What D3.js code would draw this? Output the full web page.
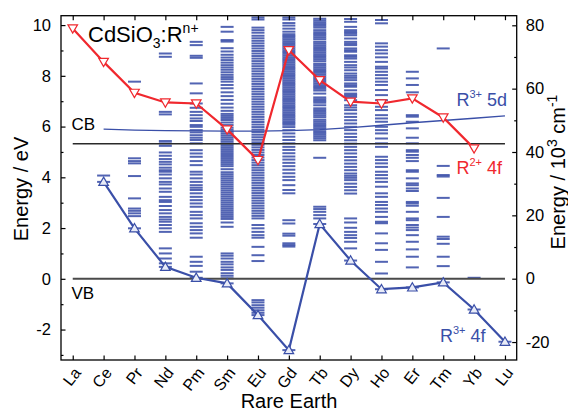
<!DOCTYPE html>
<html>
<head>
<meta charset="utf-8">
<script src="https://cdn.jsdelivr.net/npm/d3@7"></script>
<style>
  body { margin: 0; background: #fff; }
  svg { display: block; font-family: "Liberation Sans", Arial, sans-serif; }
</style>
</head>
<body>
<svg id="chart" width="568" height="413"></svg>
<script>
const elements = ["La", "Ce", "Pr", "Nd", "Pm", "Sm", "Eu", "Gd", "Tb", "Dy", "Ho", "Er", "Tm", "Yb", "Lu"];

// R2+ 4f ground state (eV), red
const r2f = [9.87, 8.55, 7.33, 6.95, 6.91, 5.89, 4.68, 9.01, 7.83, 6.98, 6.91, 7.11, 6.36, 5.14, null];
// R3+ 4f ground state (eV), blue
const r3f = [null, 3.82, 1.99, 0.47, 0.04, -0.18, -1.43, -2.81, 2.16, 0.72, -0.41, -0.34, -0.14, -1.21, -2.48];
// R3+ 5d lowest level (eV)
const r3d = [null, 5.90, 5.86, 5.84, 5.83, 5.82, 5.82, 5.84, 5.88, 5.96, 6.05, 6.15, 6.24, 6.33, 6.42];

const cbEnergy = 5.32;
const vbEnergy = 0;

// 4f level dashes per element (absolute eV)
const lvLa = [];
const lvCe = [4.07, 3.82];
const lvPr = [7.77, 4.75, 4.64, 4.55, 4.05, 3.17, 2.77, 2.68, 2.58, 2.47, 1.99];
const lvNd = [8.88, 8.75, 6.58, 6.48, 5.43, 5.34, 5.24, 4.98, 4.85, 4.72, 4.61, 4.51, 4.38, 4.28, 4.22, 4.11,
  3.96, 3.82, 3.72, 3.56, 3.43, 3.23, 3.10, 3.03, 2.87, 2.71, 2.58, 2.44, 2.34, 2.25, 2.12, 1.99, 1.85,
  1.20, 1.00, 0.80, 0.61, 0.47];
const lvPm = [9.34, 9.21, 8.79, 8.71, 7.70, 7.31, 6.91, 6.74, 6.58, 6.45, 6.32, 6.22, 6.06, 5.99, 5.86, 5.77,
  5.66, 5.56, 5.47, 5.34, 5.07, 4.94, 4.81, 4.64, 4.48, 4.22, 4.11, 3.96, 3.82, 3.69, 3.59, 3.50, 3.37, 3.23,
  3.10, 2.97, 2.84, 2.64, 2.51, 2.38, 2.19, 2.05, 1.92, 1.79, 1.62, 0.87, 0.67, 0.51, 0.28, 0.04];
const lvSm = [9.93, 9.74, 9.41, 9.35, 9.09, 8.96, 8.83, 8.72, 8.62, 8.52, 8.42, 8.33, 8.24, 8.14, 8.04, 7.95,
  7.87, 7.77, 7.64, 7.51, 7.35, 7.20, 7.05, 6.90, 6.75, 6.62, 6.50, 6.42, 6.34, 6.26, 6.16, 6.06, 5.96, 5.88,
  5.80, 5.72, 5.64, 5.56, 5.48, 5.40, 5.32, 5.24, 5.16, 5.08, 5.00, 4.92, 4.84, 4.76, 4.68, 4.60, 4.52, 4.44,
  4.32, 4.20, 4.12, 4.04, 3.96, 3.88, 3.80, 3.72, 3.64, 3.56, 3.48, 3.40, 3.32, 3.24, 3.16, 3.08, 3.00, 2.92,
  2.84, 2.76, 2.68, 2.60, 2.52, 2.44, 2.36, 2.22, 2.05, 1.00, 0.91, 0.80, 0.67, 0.57, 0.45, 0.35, 0.22, 0.12,
  0.02, -0.18];
const lvEu = [10.30, 10.22, 9.90, 9.80, 9.70, 9.58, 9.48, 9.38, 9.28, 9.18, 9.08, 8.98, 8.88, 8.78, 8.68, 8.58,
  8.48, 8.38, 8.28, 8.18, 8.08, 7.98, 7.88, 7.78, 7.68, 7.58, 7.48, 7.38, 7.28, 7.18, 7.08, 6.98, 6.88, 6.78,
  6.68, 6.58, 6.48, 6.38, 6.28, 6.18, 6.08, 5.98, 5.88, 5.78, 5.68, 5.58, 5.48, 5.38, 5.28, 5.18, 5.08, 4.98,
  4.88, 4.78, 4.68, 4.58, 4.48, 4.38, 4.28, 4.18, 4.08, 3.98, 3.88, 3.78, 3.68, 3.58, 3.48, 3.38, 3.28, 3.18,
  3.08, 2.98, 2.88, 2.78, 2.68, 2.58, 2.48, 2.38, 2.12, 1.99, 1.85, 1.72, 1.62, 1.26, 0.93, 0.70, -0.84, -0.93,
  -1.04, -1.14, -1.24, -1.34, -1.43];
const lvGd = [10.30, 10.22, 10.08, 9.98, 9.86, 9.74, 9.64, 9.57, 9.50, 9.43, 9.36, 9.29, 9.22, 9.15, 9.08, 9.01,
  8.94, 8.87, 8.80, 8.73, 8.66, 8.59, 8.52, 8.45, 8.38, 8.31, 8.24, 8.17, 8.10, 8.03, 7.96, 7.89, 7.82, 7.75,
  7.68, 7.61, 7.54, 7.47, 7.40, 7.33, 7.26, 7.19, 7.12, 7.05, 6.98, 6.91, 6.84, 6.77, 6.70, 6.63, 6.56, 6.49,
  6.42, 6.35, 6.28, 6.21, 6.14, 6.07, 5.98, 5.86, 5.73, 5.60, 5.47, 5.34, 5.20, 5.08, 4.95, 4.82, 4.70, 4.57,
  4.44, 4.30, 4.16, 4.02, 3.89, 3.69, 3.50, 3.37, 2.31, 2.18, 1.78, 1.70, 1.40, 1.33, 1.27, -2.81];
const lvTb = [10.32, 10.25, 10.18, 10.11, 10.04, 9.97, 9.90, 9.80, 9.72, 9.65, 9.58, 9.51, 9.44, 9.34, 9.27, 9.20,
  9.13, 9.06, 8.99, 8.92, 8.85, 8.78, 8.71, 8.64, 8.57, 8.47, 8.40, 8.33, 8.26, 8.19, 8.12, 8.05, 7.98, 7.91,
  7.84, 7.77, 7.70, 7.63, 7.56, 7.49, 7.42, 7.30, 7.15, 7.08, 7.01, 6.94, 6.84, 6.72, 6.65, 6.58, 6.51, 6.44,
  6.37, 6.27, 6.20, 6.13, 6.06, 5.99, 5.92, 5.82, 5.75, 5.68, 5.61, 5.54, 5.46, 4.77, 2.84, 2.75, 2.64, 2.51,
  2.38, 2.16];
const lvDy = [10.33, 10.24, 10.13, 9.93, 9.80, 9.73, 9.67, 9.60, 9.47, 9.34, 9.27, 9.21, 9.08, 9.01, 8.95, 8.81,
  8.75, 8.68, 8.55, 8.42, 8.33, 8.22, 8.09, 8.00, 7.92, 7.83, 7.70, 7.63, 7.57, 7.43, 7.30, 7.24, 7.17, 7.04,
  6.84, 6.75, 6.65, 6.51, 6.38, 6.25, 6.12, 5.99, 5.86, 5.72, 5.59, 5.46, 5.33, 5.20, 5.07, 4.94, 4.80, 4.67,
  4.54, 4.41, 4.28, 4.15, 4.06, 3.98, 3.89, 3.75, 3.62, 3.49, 3.36, 2.38, 2.22, 2.01, 1.85, 1.72, 1.61, 1.46,
  1.20, 0.72];
const lvHo = [10.20, 10.07, 9.28, 9.15, 9.01, 8.88, 8.73, 8.55, 8.36, 8.29, 8.16, 8.03, 7.90, 7.77, 7.64, 7.44,
  7.24, 7.04, 6.78, 6.65, 6.45, 6.32, 6.19, 5.99, 5.86, 5.73, 5.53, 5.34, 5.20, 4.81, 4.68, 4.55, 4.41, 4.22,
  4.09, 3.96, 3.82, 3.63, 3.37, 3.23, 3.03, 2.91, 2.77, 2.64, 2.44, 2.25, 2.19, 1.79, 1.40, 1.14, 0.67, 0.21,
  -0.41];
const lvEr = [8.16, 7.90, 7.64, 7.35, 6.45, 6.39, 6.19, 5.93, 5.56, 5.34, 5.07, 5.01, 4.88, 4.77, 4.64, 4.28,
  4.22, 3.96, 3.76, 3.69, 3.56, 3.46, 3.03, 2.97, 2.88, 2.64, 2.38, 2.31, 2.12, 2.02, 1.92, 1.72, 1.46, 1.16,
  0.87, 0.45, -0.34];
const lvTm = [9.08, 4.45, 4.09, 4.03, 3.19, 2.44, 1.66, 1.57, 1.38, 0.87, 0.50, -0.14];
const lvYb = [0.04, -1.21];
const lvLu = [-2.48];

const levelLists = [lvLa, lvCe, lvPr, lvNd, lvPm, lvSm, lvEu, lvGd, lvTb, lvDy, lvHo, lvEr, lvTm, lvYb, lvLu];

const leftTicks = [-2, 0, 2, 4, 6, 8, 10];
const leftMinor = [-3, -1, 1, 3, 5, 7, 9];
const rightTicks = [-20, 0, 20, 40, 60, 80];
const rightMinor = [-10, 10, 30, 50, 70];

const plot = { left: 61, right: 516.7, top: 15.7, bottom: 360 };
const red = "#f0282e";
const blue = "#3a4fa8";

const svg = d3.select("#chart");

const x = d3.scalePoint().domain(elements).range([plot.left, plot.right]).padding(0.38);
const y = d3.scaleLinear().domain([-3.2, 10.37]).range([plot.bottom, plot.top]);
const y2 = d3.scaleLinear().domain([-25.67, 83.03]).range([plot.bottom, plot.top]);

// level dashes
const dashRows = [];
levelLists.forEach((list, i) => list.forEach(e => dashRows.push({ el: elements[i], e })));
svg.append("g")
  .attr("stroke", "#3a4ea8")
  .attr("stroke-width", 2)
  .attr("stroke-opacity", 0.88)
  .selectAll("line")
  .data(dashRows.filter(d => y(d.e) >= plot.top + 1.5))
  .join("line")
  .attr("x1", d => x(d.el) - 6.5)
  .attr("x2", d => x(d.el) + 6.5)
  .attr("y1", d => y(d.e))
  .attr("y2", d => y(d.e));

// CB / VB
svg.append("line")
  .attr("x1", x("La")).attr("x2", x("Lu"))
  .attr("y1", y(cbEnergy)).attr("y2", y(cbEnergy))
  .attr("stroke", "#2a2a2a").attr("stroke-width", 1.5);
svg.append("line")
  .attr("x1", x("La")).attr("x2", x("Lu"))
  .attr("y1", y(vbEnergy)).attr("y2", y(vbEnergy))
  .attr("stroke", "#4a4a4a").attr("stroke-width", 2);

const lineOf = vals => d3.line()
  .defined(d => d.v !== null)
  .x(d => x(d.el))
  .y(d => y(d.v))(elements.map((el, i) => ({ el, v: vals[i] })));

// 5d line
svg.append("path").attr("d", lineOf(r3d))
  .attr("fill", "none").attr("stroke", blue).attr("stroke-width", 1.4);

// 4f R3+
svg.append("path").attr("d", lineOf(r3f))
  .attr("fill", "none").attr("stroke", blue).attr("stroke-width", 2.2);
const tri = d3.symbol().type(d3.symbolTriangle).size(40);
svg.append("g").selectAll("path")
  .data(elements.map((el, i) => ({ el, v: r3f[i] })).filter(d => d.v !== null))
  .join("path")
  .attr("d", tri)
  .attr("transform", d => `translate(${x(d.el)},${y(d.v) + 0.8})`)
  .attr("fill", "#e8ebf7").attr("stroke", blue).attr("stroke-width", 1.2);

// 4f R2+
svg.append("path").attr("d", lineOf(r2f))
  .attr("fill", "none").attr("stroke", red).attr("stroke-width", 2.2);
svg.append("g").selectAll("path")
  .data(elements.map((el, i) => ({ el, v: r2f[i] })).filter(d => d.v !== null))
  .join("path")
  .attr("d", tri)
  .attr("transform", d => `translate(${x(d.el)},${y(d.v) - 0.8}) rotate(180)`)
  .attr("fill", "#fff").attr("stroke", red).attr("stroke-width", 1.2);

// frame
svg.append("rect")
  .attr("x", plot.left).attr("y", plot.top)
  .attr("width", plot.right - plot.left).attr("height", plot.bottom - plot.top)
  .attr("fill", "none").attr("stroke", "#000").attr("stroke-width", 1.3);

// axes
const noDomain = g => g.select(".domain").remove();
const plain = d => String(d);
svg.append("g").attr("transform", `translate(${plot.left},0)`)
  .call(d3.axisLeft(y).tickValues(leftTicks).tickSize(-4.5).tickPadding(10).tickFormat(plain))
  .call(noDomain)
  .call(g => g.selectAll("text").attr("font-size", 16.5).attr("fill", "#000").attr("font-family", null));
svg.append("g").attr("transform", `translate(${plot.left},0)`)
  .call(d3.axisLeft(y).tickValues(leftMinor).tickSize(-2.5).tickFormat(""))
  .call(noDomain);
svg.append("g").attr("transform", `translate(${plot.right},0)`)
  .call(d3.axisRight(y2).tickValues(rightTicks).tickSize(-4.5).tickPadding(9).tickFormat(plain))
  .call(noDomain)
  .call(g => g.selectAll("text").attr("font-size", 16.5).attr("fill", "#000").attr("font-family", null));
svg.append("g").attr("transform", `translate(${plot.right},0)`)
  .call(d3.axisRight(y2).tickValues(rightMinor).tickSize(-2.5).tickFormat(""))
  .call(noDomain);
svg.append("g").attr("transform", `translate(0,${plot.top})`)
  .call(d3.axisTop(x).tickSize(-4.5).tickFormat(""))
  .call(noDomain);
svg.append("g").attr("transform", `translate(0,${plot.bottom})`)
  .call(d3.axisBottom(x).tickSize(-4.5).tickFormat(""))
  .call(noDomain);
svg.selectAll(".tick line").attr("stroke", "#000").attr("stroke-width", 1.2);

// rotated category labels
svg.append("g")
  .attr("font-size", 16)
  .attr("text-anchor", "end")
  .selectAll("text")
  .data(elements)
  .join("text")
  .attr("transform", d => `translate(${x(d) + 9},${373}) rotate(-52)`)
  .text(d => d);

// axis titles
svg.append("text")
  .attr("transform", "translate(28,189) rotate(-90)")
  .attr("text-anchor", "middle").attr("font-size", 20)
  .text("Energy / eV");
svg.append("text")
  .attr("x", 289).attr("y", 408)
  .attr("text-anchor", "middle").attr("font-size", 20)
  .text("Rare Earth");
const rt = svg.append("text")
  .attr("transform", "translate(565,172) rotate(-90)")
  .attr("text-anchor", "middle").attr("font-size", 20);
rt.append("tspan").text("Energy / 10");
rt.append("tspan").attr("font-size", 14).attr("dy", -8).text("3");
rt.append("tspan").attr("dy", 8).text(" cm");
rt.append("tspan").attr("font-size", 14).attr("dy", -8).text("-1");

// in-plot labels
const title = svg.append("text").attr("x", 88).attr("y", 42).attr("font-size", 22);
title.append("tspan").text("CdSiO");
title.append("tspan").attr("font-size", 14).attr("dy", 6).text("3");
title.append("tspan").attr("dy", -6).text(":R");
title.append("tspan").attr("font-size", 14).attr("dy", -9).text("n+");

svg.append("text").attr("x", 71.5).attr("y", 130).attr("font-size", 17).text("CB");
svg.append("text").attr("x", 71.5).attr("y", 299).attr("font-size", 17).text("VB");

const ionLabel = (xx, yy, sup, tail, color) => {
  const t = svg.append("text").attr("x", xx).attr("y", yy).attr("font-size", 18).attr("fill", color);
  t.append("tspan").text("R");
  t.append("tspan").attr("font-size", 11).attr("dy", -8).text(sup);
  t.append("tspan").attr("dy", 8).text(" " + tail);
};
ionLabel(456.5, 106, "3+", "5d", blue);
ionLabel(456.5, 173.5, "2+", "4f", red);
ionLabel(440, 341.5, "3+", "4f", blue);
</script>
</body>
</html>
